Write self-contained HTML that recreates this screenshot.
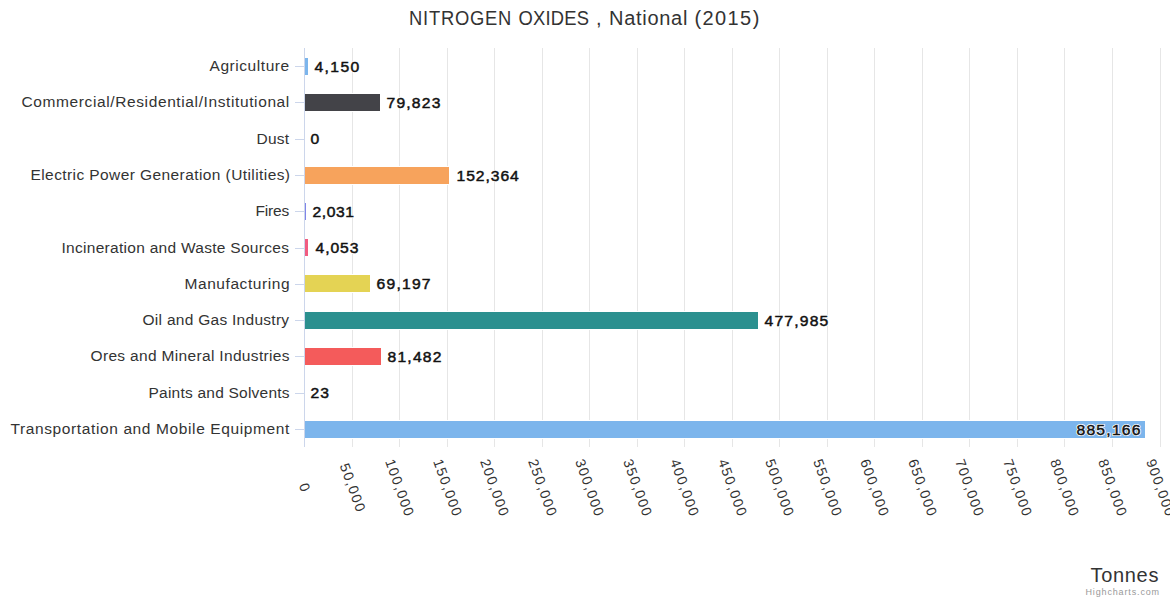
<!DOCTYPE html><html><head><meta charset="utf-8"><style>html,body{margin:0;padding:0;background:#fff;overflow:hidden}svg{display:block;font-family:"Liberation Sans",sans-serif;}</style></head><body>
<svg width="1170" height="600" viewBox="0 0 1170 600" shape-rendering="crispEdges">
<rect width="1170" height="600" fill="#fff"/>
<rect x="352" y="48" width="1" height="399" fill="#e6e6e6"/>
<rect x="399" y="48" width="1" height="399" fill="#e6e6e6"/>
<rect x="447" y="48" width="1" height="399" fill="#e6e6e6"/>
<rect x="494" y="48" width="1" height="399" fill="#e6e6e6"/>
<rect x="542" y="48" width="1" height="399" fill="#e6e6e6"/>
<rect x="589" y="48" width="1" height="399" fill="#e6e6e6"/>
<rect x="637" y="48" width="1" height="399" fill="#e6e6e6"/>
<rect x="684" y="48" width="1" height="399" fill="#e6e6e6"/>
<rect x="732" y="48" width="1" height="399" fill="#e6e6e6"/>
<rect x="779" y="48" width="1" height="399" fill="#e6e6e6"/>
<rect x="827" y="48" width="1" height="399" fill="#e6e6e6"/>
<rect x="874" y="48" width="1" height="399" fill="#e6e6e6"/>
<rect x="922" y="48" width="1" height="399" fill="#e6e6e6"/>
<rect x="969" y="48" width="1" height="399" fill="#e6e6e6"/>
<rect x="1017" y="48" width="1" height="399" fill="#e6e6e6"/>
<rect x="1064" y="48" width="1" height="399" fill="#e6e6e6"/>
<rect x="1112" y="48" width="1" height="399" fill="#e6e6e6"/>
<rect x="1160" y="48" width="1" height="399" fill="#e6e6e6"/>
<rect x="295" y="66" width="9" height="1" fill="#ccd6eb"/>
<rect x="304" y="57" width="5" height="19" fill="#fff"/>
<rect x="305" y="58" width="3" height="17" fill="#7cb5ec"/>
<rect x="295" y="102" width="9" height="1" fill="#ccd6eb"/>
<rect x="304" y="93" width="77" height="19" fill="#fff"/>
<rect x="305" y="94" width="75" height="17" fill="#434348"/>
<rect x="295" y="139" width="9" height="1" fill="#ccd6eb"/>
<rect x="295" y="175" width="9" height="1" fill="#ccd6eb"/>
<rect x="304" y="166" width="146" height="19" fill="#fff"/>
<rect x="305" y="167" width="144" height="17" fill="#f7a35c"/>
<rect x="295" y="211" width="9" height="1" fill="#ccd6eb"/>
<rect x="304" y="202" width="3" height="19" fill="#fff"/>
<rect x="305" y="203" width="1" height="17" fill="#8085e9"/>
<rect x="295" y="248" width="9" height="1" fill="#ccd6eb"/>
<rect x="304" y="238" width="5" height="19" fill="#fff"/>
<rect x="305" y="239" width="3" height="17" fill="#f15c80"/>
<rect x="295" y="284" width="9" height="1" fill="#ccd6eb"/>
<rect x="304" y="274" width="67" height="19" fill="#fff"/>
<rect x="305" y="275" width="65" height="17" fill="#e4d354"/>
<rect x="295" y="320" width="9" height="1" fill="#ccd6eb"/>
<rect x="304" y="311" width="455" height="19" fill="#fff"/>
<rect x="305" y="312" width="453" height="17" fill="#2b908f"/>
<rect x="295" y="356" width="9" height="1" fill="#ccd6eb"/>
<rect x="304" y="347" width="78" height="19" fill="#fff"/>
<rect x="305" y="348" width="76" height="17" fill="#f45b5b"/>
<rect x="295" y="393" width="9" height="1" fill="#ccd6eb"/>
<rect x="295" y="429" width="9" height="1" fill="#ccd6eb"/>
<rect x="304" y="420" width="842" height="19" fill="#fff"/>
<rect x="305" y="421" width="840" height="17" fill="#7cb5ec"/>
<rect x="304" y="48" width="1" height="399" fill="#ccd6eb"/>
<text x="209.50" y="71.14" textLength="79.70" lengthAdjust="spacing" font-size="15.5" fill="#333">Agriculture</text>
<text transform="translate(314.50,72) scale(1.12,1)" textLength="39.91" lengthAdjust="spacing" font-size="14" fill="#fff" stroke="#fff" stroke-width="2" stroke-linejoin="round">4,150</text>
<text transform="translate(314.50,72) scale(1.12,1)" textLength="39.91" lengthAdjust="spacing" font-size="14" fill="#111" stroke="#111" stroke-width="0.45">4,150</text>
<text x="21.50" y="107.41" textLength="267.80" lengthAdjust="spacing" font-size="15.5" fill="#333">Commercial/Residential/Institutional</text>
<text transform="translate(386.50,108) scale(1.12,1)" textLength="48.12" lengthAdjust="spacing" font-size="14" fill="#fff" stroke="#fff" stroke-width="2" stroke-linejoin="round">79,823</text>
<text transform="translate(386.50,108) scale(1.12,1)" textLength="48.12" lengthAdjust="spacing" font-size="14" fill="#111" stroke="#111" stroke-width="0.45">79,823</text>
<text x="256.50" y="143.68" textLength="32.60" lengthAdjust="spacing" font-size="15.5" fill="#333">Dust</text>
<text transform="translate(310.50,144) scale(1.12,1)" font-size="14" fill="#fff" stroke="#fff" stroke-width="2" stroke-linejoin="round">0</text>
<text transform="translate(310.50,144) scale(1.12,1)" font-size="14" fill="#111" stroke="#111" stroke-width="0.45">0</text>
<text x="30.50" y="179.95" textLength="259.50" lengthAdjust="spacing" font-size="15.5" fill="#333">Electric Power Generation (Utilities)</text>
<text transform="translate(456.50,181) scale(1.12,1)" textLength="55.62" lengthAdjust="spacing" font-size="14" fill="#fff" stroke="#fff" stroke-width="2" stroke-linejoin="round">152,364</text>
<text transform="translate(456.50,181) scale(1.12,1)" textLength="55.62" lengthAdjust="spacing" font-size="14" fill="#111" stroke="#111" stroke-width="0.45">152,364</text>
<text x="255.50" y="216.23" textLength="33.70" lengthAdjust="spacing" font-size="15.5" fill="#333">Fires</text>
<text transform="translate(312.50,217) scale(1.12,1)" textLength="37.05" lengthAdjust="spacing" font-size="14" fill="#fff" stroke="#fff" stroke-width="2" stroke-linejoin="round">2,031</text>
<text transform="translate(312.50,217) scale(1.12,1)" textLength="37.05" lengthAdjust="spacing" font-size="14" fill="#111" stroke="#111" stroke-width="0.45">2,031</text>
<text x="61.50" y="252.50" textLength="227.40" lengthAdjust="spacing" font-size="15.5" fill="#333">Incineration and Waste Sources</text>
<text transform="translate(315.50,253) scale(1.12,1)" textLength="38.39" lengthAdjust="spacing" font-size="14" fill="#fff" stroke="#fff" stroke-width="2" stroke-linejoin="round">4,053</text>
<text transform="translate(315.50,253) scale(1.12,1)" textLength="38.39" lengthAdjust="spacing" font-size="14" fill="#111" stroke="#111" stroke-width="0.45">4,053</text>
<text x="184.50" y="288.77" textLength="105.00" lengthAdjust="spacing" font-size="15.5" fill="#333">Manufacturing</text>
<text transform="translate(376.50,289) scale(1.12,1)" textLength="48.30" lengthAdjust="spacing" font-size="14" fill="#fff" stroke="#fff" stroke-width="2" stroke-linejoin="round">69,197</text>
<text transform="translate(376.50,289) scale(1.12,1)" textLength="48.30" lengthAdjust="spacing" font-size="14" fill="#111" stroke="#111" stroke-width="0.45">69,197</text>
<text x="142.50" y="325.05" textLength="146.60" lengthAdjust="spacing" font-size="15.5" fill="#333">Oil and Gas Industry</text>
<text transform="translate(764.50,326) scale(1.12,1)" textLength="56.96" lengthAdjust="spacing" font-size="14" fill="#fff" stroke="#fff" stroke-width="2" stroke-linejoin="round">477,985</text>
<text transform="translate(764.50,326) scale(1.12,1)" textLength="56.96" lengthAdjust="spacing" font-size="14" fill="#111" stroke="#111" stroke-width="0.45">477,985</text>
<text x="90.50" y="361.32" textLength="199.00" lengthAdjust="spacing" font-size="15.5" fill="#333">Ores and Mineral Industries</text>
<text transform="translate(387.50,362) scale(1.12,1)" textLength="48.21" lengthAdjust="spacing" font-size="14" fill="#fff" stroke="#fff" stroke-width="2" stroke-linejoin="round">81,482</text>
<text transform="translate(387.50,362) scale(1.12,1)" textLength="48.21" lengthAdjust="spacing" font-size="14" fill="#111" stroke="#111" stroke-width="0.45">81,482</text>
<text x="148.50" y="397.59" textLength="141.00" lengthAdjust="spacing" font-size="15.5" fill="#333">Paints and Solvents</text>
<text transform="translate(310.50,398) scale(1.12,1)" textLength="16.61" lengthAdjust="spacing" font-size="14" fill="#fff" stroke="#fff" stroke-width="2" stroke-linejoin="round">23</text>
<text transform="translate(310.50,398) scale(1.12,1)" textLength="16.61" lengthAdjust="spacing" font-size="14" fill="#111" stroke="#111" stroke-width="0.45">23</text>
<text x="10.50" y="433.86" textLength="278.80" lengthAdjust="spacing" font-size="15.5" fill="#333">Transportation and Mobile Equipment</text>
<text transform="translate(1076.50,435) scale(1.12,1)" textLength="57.14" lengthAdjust="spacing" font-size="14" fill="#fff" stroke="#fff" stroke-width="2" stroke-linejoin="round">885,166</text>
<text transform="translate(1076.50,435) scale(1.12,1)" textLength="57.14" lengthAdjust="spacing" font-size="14" fill="#111" stroke="#111" stroke-width="0.45">885,166</text>
<text transform="translate(305,488) rotate(70)" text-anchor="middle" dominant-baseline="central" font-size="14" letter-spacing="1.45" fill="#333">0</text>
<text transform="translate(353,488) rotate(70)" text-anchor="middle" dominant-baseline="central" font-size="14" letter-spacing="1.45" fill="#333">50,000</text>
<text transform="translate(400,488) rotate(70)" text-anchor="middle" dominant-baseline="central" font-size="14" letter-spacing="1.45" fill="#333">100,000</text>
<text transform="translate(448,488) rotate(70)" text-anchor="middle" dominant-baseline="central" font-size="14" letter-spacing="1.45" fill="#333">150,000</text>
<text transform="translate(495,488) rotate(70)" text-anchor="middle" dominant-baseline="central" font-size="14" letter-spacing="1.45" fill="#333">200,000</text>
<text transform="translate(543,488) rotate(70)" text-anchor="middle" dominant-baseline="central" font-size="14" letter-spacing="1.45" fill="#333">250,000</text>
<text transform="translate(590,488) rotate(70)" text-anchor="middle" dominant-baseline="central" font-size="14" letter-spacing="1.45" fill="#333">300,000</text>
<text transform="translate(638,488) rotate(70)" text-anchor="middle" dominant-baseline="central" font-size="14" letter-spacing="1.45" fill="#333">350,000</text>
<text transform="translate(685,488) rotate(70)" text-anchor="middle" dominant-baseline="central" font-size="14" letter-spacing="1.45" fill="#333">400,000</text>
<text transform="translate(733,488) rotate(70)" text-anchor="middle" dominant-baseline="central" font-size="14" letter-spacing="1.45" fill="#333">450,000</text>
<text transform="translate(780,488) rotate(70)" text-anchor="middle" dominant-baseline="central" font-size="14" letter-spacing="1.45" fill="#333">500,000</text>
<text transform="translate(828,488) rotate(70)" text-anchor="middle" dominant-baseline="central" font-size="14" letter-spacing="1.45" fill="#333">550,000</text>
<text transform="translate(875,488) rotate(70)" text-anchor="middle" dominant-baseline="central" font-size="14" letter-spacing="1.45" fill="#333">600,000</text>
<text transform="translate(923,488) rotate(70)" text-anchor="middle" dominant-baseline="central" font-size="14" letter-spacing="1.45" fill="#333">650,000</text>
<text transform="translate(970,488) rotate(70)" text-anchor="middle" dominant-baseline="central" font-size="14" letter-spacing="1.45" fill="#333">700,000</text>
<text transform="translate(1018,488) rotate(70)" text-anchor="middle" dominant-baseline="central" font-size="14" letter-spacing="1.45" fill="#333">750,000</text>
<text transform="translate(1065,488) rotate(70)" text-anchor="middle" dominant-baseline="central" font-size="14" letter-spacing="1.45" fill="#333">800,000</text>
<text transform="translate(1113,488) rotate(70)" text-anchor="middle" dominant-baseline="central" font-size="14" letter-spacing="1.45" fill="#333">850,000</text>
<text transform="translate(1161,488) rotate(70)" text-anchor="middle" dominant-baseline="central" font-size="14" letter-spacing="1.45" fill="#333">900,000</text>
<text transform="translate(409.00,25) scale(0.92,1)" textLength="111.30" lengthAdjust="spacing" font-size="20" fill="#333">NITROGEN</text>
<text transform="translate(518.50,25) scale(0.92,1)" textLength="76.74" lengthAdjust="spacing" font-size="20" fill="#333">OXIDES</text>
<text transform="translate(596.10,25) scale(1.0,1)" font-size="20" fill="#333">,</text>
<text transform="translate(609.00,25) scale(1.0,1)" textLength="78.40" lengthAdjust="spacing" font-size="20" fill="#333">National</text>
<text transform="translate(694.50,25) scale(1.0,1)" textLength="64.80" lengthAdjust="spacing" font-size="20" fill="#333">(2015)</text>
<text x="1090.50" y="582" textLength="67.90" lengthAdjust="spacing" font-size="20" fill="#333">Tonnes</text>
<text x="1085.50" y="595" textLength="73.60" lengthAdjust="spacing" font-size="9" fill="#999">Highcharts.com</text>
</svg></body></html>
